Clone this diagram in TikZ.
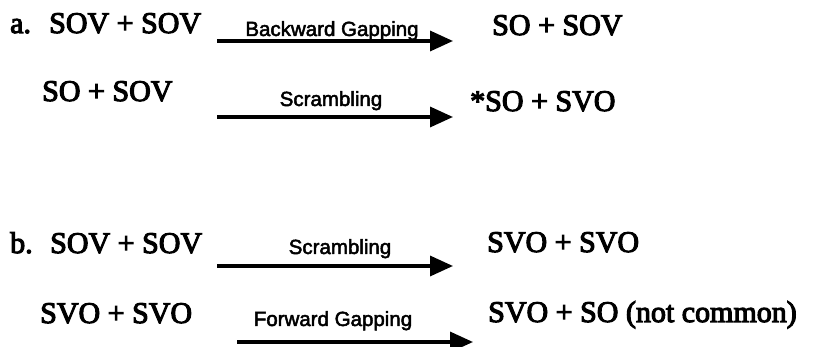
\documentclass[tikz,border=0pt]{standalone}
\usepackage{fontspec}
\setmainfont{Liberation Serif}
\newfontfamily\formfont[FakeBold=3.6]{Liberation Serif}
\newfontfamily\rulefont[FakeBold=2.4]{Liberation Sans}
\usetikzlibrary{arrows.meta}

\tikzset{
  form/.style={anchor=base west, inner sep=0pt, font=\formfont\fontsize{30}{36}\selectfont},
  rulelbl/.style={anchor=base, inner sep=0pt, font=\rulefont\fontsize{20.5}{24}\selectfont},
  deriv/.style={-{Triangle[length=23pt, width=20pt]}, line width=3.4pt}
}

\begin{document}
\begin{tikzpicture}[x=1pt, y=-1pt]
\useasboundingbox (0,0) rectangle (830,347);

% (a) backward gapping, then scrambling
\node[form] (a-num) at (10,33) {a.};
\node[form] (a1-in) at (49,33) {SOV + SOV};
\coordinate (a1-from) at (217,41);
\coordinate (a1-to) at (453,41);
\draw[deriv] (a1-from) -- (a1-to);
\node[rulelbl] (a1-rule) at (332,36) {Backward Gapping};
\node[form] (a1-out) at (492,35) {SO + SOV};

\node[form] (a2-in) at (42,101) {SO + SOV};
\coordinate (a2-from) at (217,117);
\coordinate (a2-to) at (453,117);
\draw[deriv] (a2-from) -- (a2-to);
\node[rulelbl] (a2-rule) at (331,106) {Scrambling};
\node[form] (a2-out) at (470,111) {*SO + SVO};

% (b) scrambling, then forward gapping
\node[form] (b-num) at (10,253) {b.};
\node[form] (b1-in) at (50,253) {SOV + SOV};
\coordinate (b1-from) at (217,266);
\coordinate (b1-to) at (453,266);
\draw[deriv] (b1-from) -- (b1-to);
\node[rulelbl] (b1-rule) at (340,254) {Scrambling};
\node[form] (b1-out) at (487,252) {SVO + SVO};

\node[form] (b2-in) at (40,323) {SVO + SVO};
\coordinate (b2-from) at (237,342);
\coordinate (b2-to) at (473,342);
\draw[deriv] (b2-from) -- (b2-to);
\node[rulelbl] (b2-rule) at (333,326) {Forward Gapping};
\node[form] (b2-out) at (488,322) {SVO + SO (not common)};

\end{tikzpicture}
\end{document}
